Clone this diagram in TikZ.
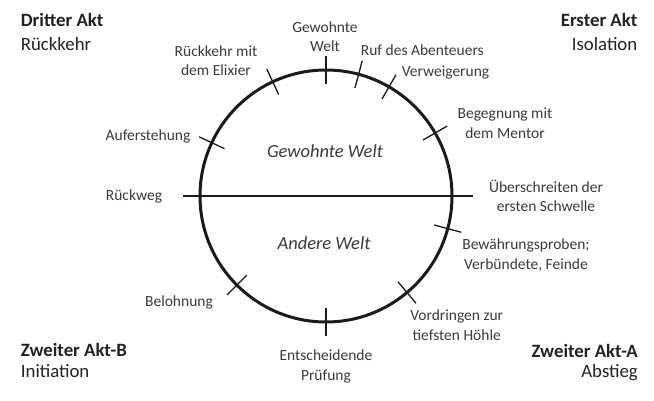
\documentclass[tikz,border=0pt]{standalone}
\usepackage{fontspec}
\setmainfont{Carlito}
\definecolor{txt}{HTML}{3A3A3A}
\definecolor{ttl}{HTML}{222222}
\definecolor{ln}{HTML}{1A1A1A}
\tikzset{
  lbl/.style={font=\fontsize{15.5}{19.5}\selectfont, text=txt, inner sep=0pt, align=center, anchor=base},
  world/.style={font=\fontsize{18.5}{22}\selectfont\itshape, text=txt, inner sep=0pt, anchor=base},
  act/.style={font=\fontsize{18.8}{24}\selectfont, text=ttl, inner sep=0pt},
  tickmark/.style={draw=ln, line width=1.3pt},
  ring/.style={draw=ln, line width=3pt, circle, minimum size=252pt, inner sep=0pt}
}
\begin{document}
\begin{tikzpicture}[x=1pt,y=1pt]
\useasboundingbox (0,0) rectangle (654,400);
% circle and divider
\node[ring] (c) at (326,204) {};
\coordinate (l) at (183,204);
\coordinate (r) at (473,204);
\draw[tickmark] (l) -- (r);
% ticks
\foreach \a in {90,75,60,30,115,155,-15,-50,-90,-135}{
  \draw[tickmark] ({326+112*cos(\a)},{204+112*sin(\a)}) -- ({326+140*cos(\a)},{204+140*sin(\a)});
}
% world labels
\node[world] (gw) at (325,242.7) {Gewohnte Welt};
\node[world] (aw) at (324,151) {Andere Welt};
% act titles (anchor = baseline of last line)
\node[act, align=left, anchor=base west] (a3) at (20.7,349.3) {\textbf{Dritter Akt}\\Rückkehr};
\node[act, align=right, anchor=base east] (a1) at (637.5,349.3) {\textbf{Erster Akt}\\Isolation};
\node[act, align=left, anchor=base west, font=\fontsize{18.8}{21}\selectfont] (a2b) at (20.7,22.3) {\textbf{Zweiter Akt-B}\\Initiation};
\node[act, align=right, anchor=base east, font=\fontsize{18.8}{20.5}\selectfont] (a2a) at (638,22.3) {\textbf{Zweiter Akt-A}\\Abstieg};
% stage labels
\node[lbl] (s1) at (325,348.3) {Gewohnte\\Welt};
\node[lbl, anchor=base west] (s2) at (360.7,344.3) {Ruf des Abenteuers};
\node[lbl, anchor=base west] (s3) at (401.7,323.3) {Verweigerung};
\node[lbl] (s4) at (505,261.7) {Begegnung mit\\dem Mentor};
\node[lbl] (s5) at (546,188.3) {Überschreiten der\\ersten Schwelle};
\node[lbl] (s6) at (526,131) {Bewährungsproben;\\Verbündete, Feinde};
\node[lbl] (s7) at (456.7,60) {Vordringen zur\\tiefsten Höhle};
\node[lbl] (s8) at (326,20) {Entscheidende\\Prüfung};
\node[lbl] (s9) at (179,93.3) {Belohnung};
\node[lbl] (s10) at (134,200) {Rückweg};
\node[lbl] (s11) at (148,260) {Auferstehung};
\node[lbl] (s12) at (216,324.3) {Rückkehr mit\\dem Elixier};
\end{tikzpicture}
\end{document}
